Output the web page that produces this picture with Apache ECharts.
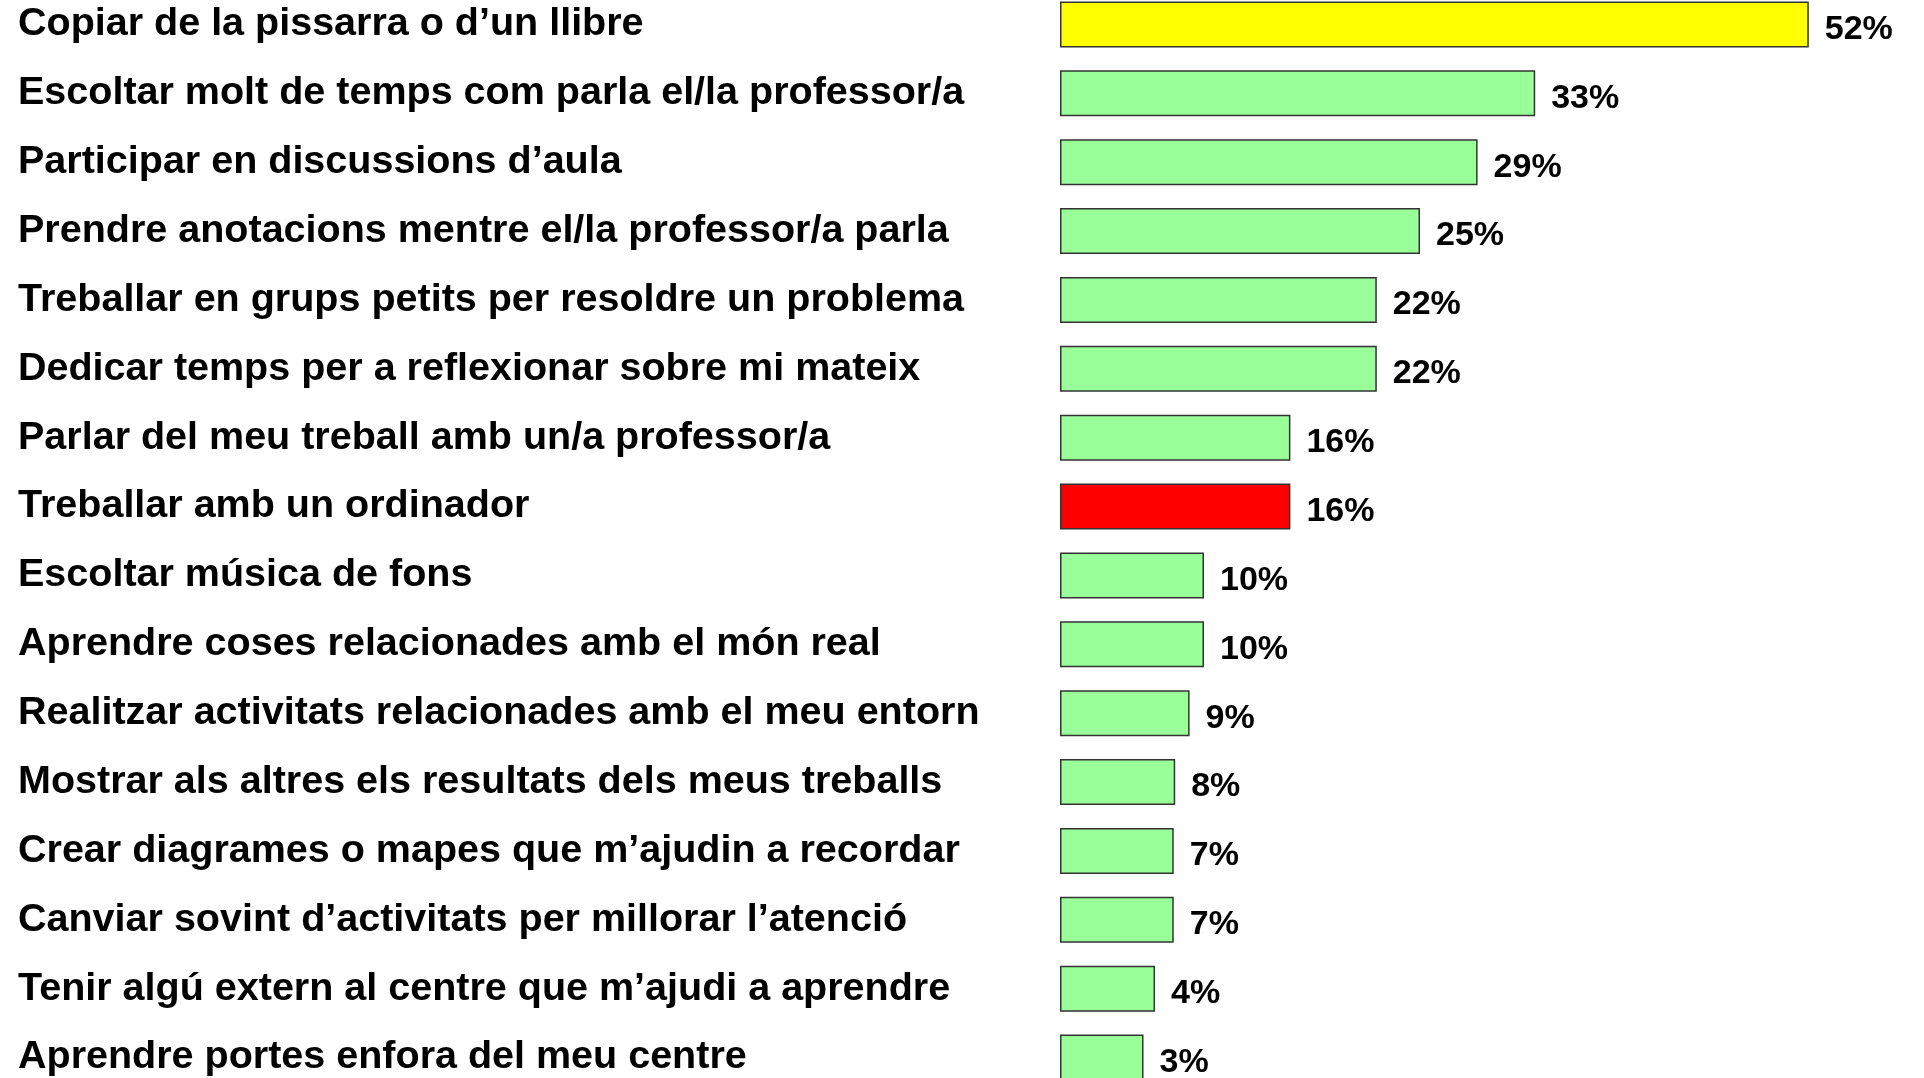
<!DOCTYPE html>
<html>
<head>
<meta charset="utf-8">
<title>Activitats</title>
<script src="https://cdn.jsdelivr.net/npm/echarts@6/dist/echarts.min.js"></script>
<style>
    html, body {
        margin: 0;
        padding: 0;
        background: #fff;
        overflow: hidden;
    }
    #chart {
        width: 1924px;
        height: 1102px;
        margin-top: -10px;
    }
</style>
</head>
<body>
<div id="chart"></div>
<script>
// activitats, de dalt a baix
let categories = [
    "Copiar de la pissarra o d’un llibre",
    "Escoltar molt de temps com parla el/la professor/a",
    "Participar en discussions d’aula",
    "Prendre anotacions mentre el/la professor/a parla",
    "Treballar en grups petits per resoldre un problema",
    "Dedicar temps per a reflexionar sobre mi mateix",
    "Parlar del meu treball amb un/a professor/a",
    "Treballar amb un ordinador",
    "Escoltar música de fons",
    "Aprendre coses relacionades amb el món real",
    "Realitzar activitats relacionades amb el meu entorn",
    "Mostrar als altres els resultats dels meus treballs",
    "Crear diagrames o mapes que m’ajudin a recordar",
    "Canviar sovint d’activitats per millorar l’atenció",
    "Tenir algú extern al centre que m’ajudi a aprendre",
    "Aprendre portes enfora del meu centre"
]
// llargada de les barres tal com es veuen a la imatge
let barValues = [52, 33, 29, 25, 22, 22, 16, 16, 10, 10, 9, 8, 7.9, 7.9, 6.6, 5.8]
// percentatges escrits al costat de cada barra
let valueLabels = ["52%", "33%", "29%", "25%", "22%", "22%", "16%", "16%", "10%", "10%", "9%", "8%", "7%", "7%", "4%", "3%"]
let barColors = ["#ffff00", "#99ff99", "#99ff99", "#99ff99", "#99ff99", "#99ff99", "#99ff99", "#ff0000",
    "#99ff99", "#99ff99", "#99ff99", "#99ff99", "#99ff99", "#99ff99", "#99ff99", "#99ff99"]

let myChart = echarts.init(document.getElementById("chart"))
let option = {
    backgroundColor: "#fff",
    animation: false,
    textStyle: {
        fontFamily: "Liberation Sans, Arial, sans-serif"
    },
    grid: {
        left: 1060,
        right: 0,
        top: 0,
        bottom: 0,
        containLabel: false
    },
    xAxis: {
        type: "value",
        min: 0,
        max: 60,
        show: false
    },
    yAxis: {
        type: "category",
        inverse: true,
        data: categories,
        axisLine: { show: false },
        axisTick: { show: false },
        splitLine: { show: false },
        axisLabel: {
            align: "left",
            margin: 1042,
            color: "#000",
            fontSize: 39.5,
            fontWeight: "bold",
            fontFamily: "Liberation Sans, Arial, sans-serif"
        }
    },
    series: [
        {
            type: "bar",
            barWidth: 46,
            data: barValues.map((v, i) => ({
                value: v,
                itemStyle: { color: barColors[i] }
            })),
            itemStyle: {
                borderColor: "#333",
                borderWidth: 1.5
            },
            label: {
                show: true,
                position: "right",
                distance: 16,
                offset: [0, 5],
                color: "#000",
                fontSize: 34,
                fontWeight: "bold",
                fontFamily: "Liberation Sans, Arial, sans-serif",
                formatter: (p) => valueLabels[p.dataIndex]
            }
        }
    ]
}
myChart.setOption(option)
window.addEventListener("resize", () => { myChart.resize() })
</script>
</body>
</html>
